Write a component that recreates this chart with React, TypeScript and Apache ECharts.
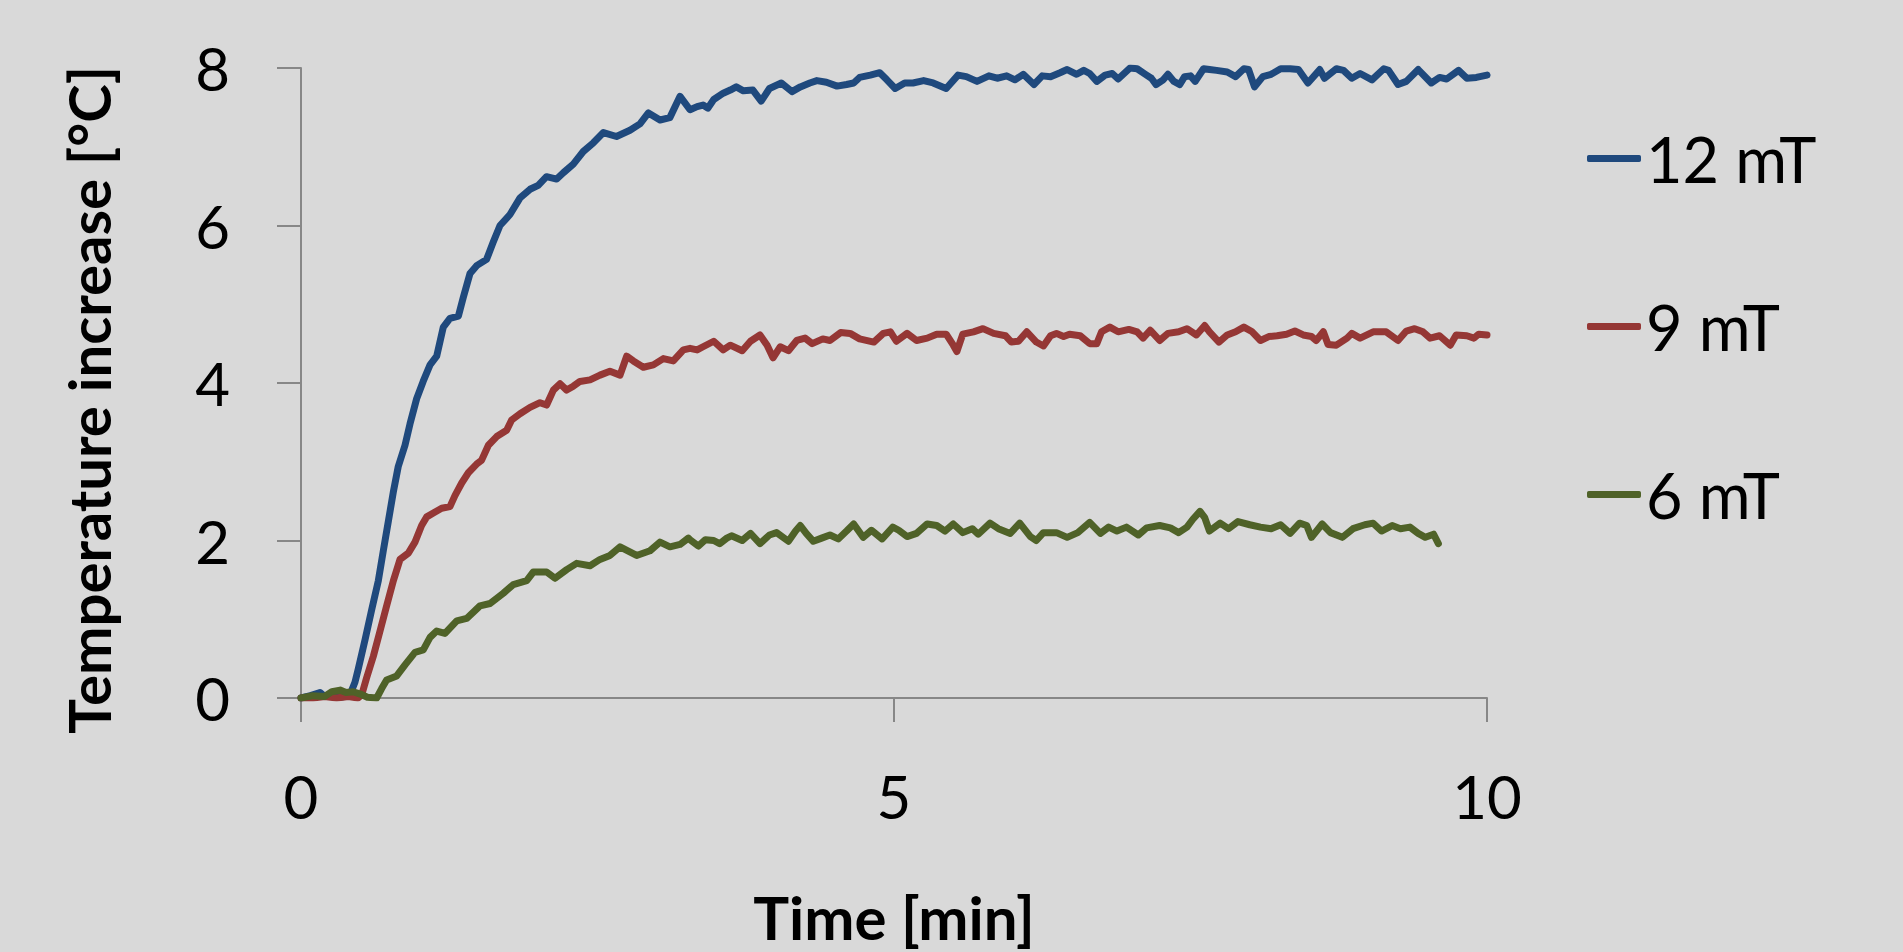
import React, { useEffect, useRef } from "react";
import * as echarts from "echarts";

const seriesNames = ["12 mT", "9 mT", "6 mT"];
const seriesColors = ["#1F497D", "#953735", "#4F6228"];

const xTicks = [0, 5, 10];
const yTicks = [0, 2, 4, 6, 8];

const blue12: [number, number][] = [
  [0, 0], [0.08, 0.03], [0.16, 0.07], [0.2, 0.02], [0.25, 0.03], [0.33, 0.01], [0.41, 0.03],
  [0.455, 0.2], [0.483, 0.37], [0.54, 0.74], [0.596, 1.12], [0.652, 1.49], [0.694, 1.87],
  [0.736, 2.24], [0.779, 2.62], [0.82, 2.94], [0.877, 3.21], [0.919, 3.48], [0.975, 3.8],
  [1.03, 4.02], [1.088, 4.23], [1.144, 4.34], [1.2, 4.71], [1.256, 4.82], [1.327, 4.85],
  [1.369, 5.09], [1.425, 5.39], [1.481, 5.49], [1.565, 5.57], [1.621, 5.79], [1.678, 6.0],
  [1.762, 6.14], [1.847, 6.35], [1.931, 6.46], [2.0, 6.51], [2.07, 6.62], [2.156, 6.59],
  [2.212, 6.67], [2.296, 6.78], [2.38, 6.94], [2.465, 7.05], [2.55, 7.18], [2.66, 7.13],
  [2.774, 7.21], [2.858, 7.29], [2.929, 7.43], [3.027, 7.34], [3.11, 7.37], [3.196, 7.64],
  [3.28, 7.47], [3.34, 7.51], [3.39, 7.53], [3.43, 7.49], [3.48, 7.6], [3.56, 7.68],
  [3.62, 7.72], [3.67, 7.76], [3.73, 7.71], [3.81, 7.72], [3.88, 7.58], [3.95, 7.74],
  [4.05, 7.81], [4.14, 7.7], [4.21, 7.76], [4.29, 7.81], [4.35, 7.84], [4.43, 7.82],
  [4.52, 7.77], [4.6, 7.79], [4.66, 7.81], [4.71, 7.88], [4.8, 7.91], [4.88, 7.94],
  [4.94, 7.85], [5.01, 7.74], [5.09, 7.81], [5.16, 7.81], [5.25, 7.84], [5.33, 7.81],
  [5.44, 7.74], [5.54, 7.91], [5.61, 7.89], [5.7, 7.83], [5.8, 7.9], [5.87, 7.87],
  [5.95, 7.9], [6.02, 7.85], [6.09, 7.92], [6.18, 7.79], [6.25, 7.9], [6.32, 7.89],
  [6.4, 7.94], [6.46, 7.98], [6.54, 7.92], [6.6, 7.97], [6.65, 7.93], [6.71, 7.83],
  [6.78, 7.91], [6.84, 7.93], [6.89, 7.86], [6.99, 8.0], [7.05, 7.99], [7.12, 7.92],
  [7.17, 7.87], [7.21, 7.79], [7.27, 7.85], [7.31, 7.92], [7.36, 7.83], [7.41, 7.79],
  [7.45, 7.89], [7.5, 7.9], [7.54, 7.83], [7.61, 7.99], [7.66, 7.98], [7.72, 7.97],
  [7.81, 7.95], [7.88, 7.89], [7.95, 7.99], [7.99, 7.98], [8.04, 7.76], [8.11, 7.89],
  [8.18, 7.92], [8.26, 7.99], [8.34, 7.99], [8.41, 7.98], [8.49, 7.81], [8.59, 7.98],
  [8.63, 7.87], [8.73, 7.99], [8.79, 7.97], [8.86, 7.87], [8.93, 7.93], [9.03, 7.85],
  [9.13, 7.99], [9.17, 7.97], [9.25, 7.79], [9.32, 7.83], [9.42, 7.98], [9.53, 7.81],
  [9.6, 7.88], [9.66, 7.86], [9.76, 7.97], [9.83, 7.87], [9.91, 7.88], [10.0, 7.91],
];

const red9: [number, number][] = [
  [0, 0], [0.1, 0.0], [0.2, 0.02], [0.3, 0.0], [0.4, 0.02], [0.48, 0.0],
  [0.512, 0.04], [0.554, 0.26], [0.61, 0.53], [0.666, 0.85], [0.722, 1.17], [0.779, 1.49],
  [0.835, 1.76], [0.905, 1.84], [0.961, 1.98], [1.017, 2.19], [1.06, 2.3], [1.116, 2.35],
  [1.186, 2.41], [1.256, 2.43], [1.298, 2.57], [1.355, 2.73], [1.411, 2.86], [1.481, 2.97],
  [1.523, 3.02], [1.58, 3.21], [1.65, 3.32], [1.734, 3.4], [1.776, 3.53], [1.847, 3.61],
  [1.931, 3.69], [2.015, 3.75], [2.071, 3.72], [2.128, 3.91], [2.184, 3.99], [2.24, 3.91],
  [2.296, 3.96], [2.352, 4.02], [2.437, 4.04], [2.521, 4.1], [2.605, 4.15], [2.69, 4.1],
  [2.746, 4.34], [2.802, 4.28], [2.886, 4.2], [2.971, 4.23], [3.055, 4.31], [3.139, 4.28],
  [3.224, 4.42], [3.28, 4.44], [3.34, 4.42], [3.39, 4.46], [3.48, 4.53], [3.56, 4.42],
  [3.62, 4.48], [3.72, 4.41], [3.79, 4.53], [3.87, 4.61], [3.93, 4.48], [3.98, 4.32],
  [4.04, 4.46], [4.11, 4.41], [4.18, 4.54], [4.25, 4.57], [4.31, 4.5], [4.4, 4.56],
  [4.46, 4.54], [4.55, 4.64], [4.63, 4.63], [4.71, 4.56], [4.83, 4.52], [4.91, 4.63],
  [4.97, 4.65], [5.02, 4.53], [5.11, 4.63], [5.19, 4.54], [5.28, 4.57], [5.36, 4.62],
  [5.44, 4.62], [5.5, 4.48], [5.53, 4.4], [5.58, 4.62], [5.67, 4.65], [5.75, 4.69],
  [5.84, 4.63], [5.94, 4.6], [5.99, 4.52], [6.05, 4.53], [6.12, 4.65], [6.2, 4.52],
  [6.26, 4.47], [6.32, 4.6], [6.37, 4.63], [6.43, 4.59], [6.48, 4.62], [6.57, 4.6],
  [6.65, 4.5], [6.71, 4.5], [6.75, 4.65], [6.82, 4.71], [6.89, 4.65], [6.98, 4.68],
  [7.05, 4.65], [7.1, 4.57], [7.16, 4.67], [7.24, 4.54], [7.31, 4.63], [7.4, 4.65],
  [7.47, 4.69], [7.55, 4.61], [7.62, 4.73], [7.66, 4.65], [7.74, 4.52], [7.81, 4.61],
  [7.88, 4.65], [7.95, 4.71], [8.02, 4.65], [8.09, 4.54], [8.16, 4.59], [8.23, 4.6],
  [8.31, 4.62], [8.38, 4.66], [8.45, 4.61], [8.52, 4.59], [8.56, 4.54], [8.62, 4.65],
  [8.66, 4.49], [8.73, 4.48], [8.82, 4.57], [8.86, 4.63], [8.93, 4.57], [9.04, 4.65],
  [9.15, 4.65], [9.25, 4.54], [9.32, 4.66], [9.39, 4.69], [9.46, 4.65], [9.52, 4.57],
  [9.6, 4.6], [9.69, 4.48], [9.74, 4.61], [9.83, 4.6], [9.89, 4.57], [9.93, 4.62],
  [10.0, 4.61],
];

const green6: [number, number][] = [
  [0, 0], [0.1, 0.03], [0.2, 0.02], [0.26, 0.08], [0.33, 0.1], [0.38, 0.07], [0.44, 0.08],
  [0.5, 0.05], [0.56, 0.01], [0.638, 0.0], [0.68, 0.12], [0.722, 0.23], [0.807, 0.28],
  [0.877, 0.42], [0.961, 0.58], [1.031, 0.61], [1.088, 0.77], [1.144, 0.85], [1.214, 0.82],
  [1.313, 0.98], [1.397, 1.01], [1.509, 1.17], [1.594, 1.2], [1.706, 1.33], [1.79, 1.44],
  [1.903, 1.49], [1.959, 1.6], [2.071, 1.6], [2.142, 1.52], [2.24, 1.63], [2.324, 1.71],
  [2.437, 1.68], [2.521, 1.76], [2.605, 1.81], [2.69, 1.92], [2.83, 1.81], [2.943, 1.87],
  [3.027, 1.98], [3.111, 1.92], [3.196, 1.95], [3.266, 2.03], [3.28, 2.01], [3.35, 1.93],
  [3.41, 2.01], [3.48, 2.0], [3.53, 1.96], [3.59, 2.03], [3.63, 2.06], [3.72, 2.0],
  [3.79, 2.09], [3.87, 1.96], [3.95, 2.07], [4.01, 2.1], [4.11, 1.99], [4.17, 2.12],
  [4.21, 2.19], [4.26, 2.09], [4.32, 1.99], [4.39, 2.03], [4.46, 2.07], [4.53, 2.02],
  [4.6, 2.12], [4.66, 2.21], [4.74, 2.04], [4.81, 2.13], [4.9, 2.02], [4.99, 2.17],
  [5.04, 2.13], [5.11, 2.05], [5.19, 2.09], [5.28, 2.21], [5.36, 2.19], [5.43, 2.12],
  [5.5, 2.21], [5.58, 2.1], [5.66, 2.15], [5.71, 2.08], [5.81, 2.22], [5.88, 2.15],
  [5.98, 2.09], [6.06, 2.22], [6.15, 2.05], [6.2, 2.0], [6.26, 2.1], [6.37, 2.1],
  [6.46, 2.04], [6.55, 2.1], [6.65, 2.23], [6.74, 2.09], [6.81, 2.17], [6.88, 2.12],
  [6.96, 2.17], [7.06, 2.07], [7.13, 2.16], [7.24, 2.19], [7.33, 2.16], [7.4, 2.1],
  [7.47, 2.17], [7.52, 2.27], [7.58, 2.37], [7.62, 2.29], [7.66, 2.12], [7.75, 2.22],
  [7.82, 2.15], [7.9, 2.24], [8.0, 2.2], [8.09, 2.17], [8.18, 2.15], [8.26, 2.2],
  [8.34, 2.09], [8.42, 2.22], [8.48, 2.19], [8.52, 2.04], [8.61, 2.21], [8.68, 2.1],
  [8.78, 2.04], [8.87, 2.15], [8.97, 2.2], [9.04, 2.22], [9.11, 2.12], [9.2, 2.19],
  [9.27, 2.15], [9.35, 2.17], [9.42, 2.09], [9.48, 2.04], [9.55, 2.08], [9.59, 1.96],
];

const seriesData = [blue12, red9, green6];

const FONT = "Lato";
const AXIS_COLOR = "#878787";

export default function App() {
  const ref = useRef<HTMLDivElement>(null);

  useEffect(() => {
    if (!ref.current) return;
    const chart = echarts.init(ref.current, null, { renderer: "svg" });
    chart.setOption({
      animation: false,
      backgroundColor: "#D9D9D9",
      textStyle: { fontFamily: FONT },
      grid: { left: 301, right: 416, top: 68, bottom: 250.5, containLabel: false },
      legend: {
        orient: "vertical",
        left: 1582,
        top: 122,
        itemWidth: 54,
        itemHeight: 7,
        itemGap: 105,
        icon: "roundRect",
        data: seriesNames,
        textStyle: { fontFamily: FONT, fontSize: 63, lineHeight: 63, color: "#000" },
      },
      xAxis: {
        type: "value",
        min: xTicks[0],
        max: xTicks[xTicks.length - 1],
        interval: 5,
        name: "Time [min]",
        nameLocation: "middle",
        nameGap: 189,
        nameTextStyle: { fontFamily: FONT, fontSize: 60, fontWeight: "bold", color: "#000" },
        axisLine: { show: true, onZero: false, lineStyle: { color: AXIS_COLOR, width: 2 } },
        axisTick: { show: true, inside: false, length: 24, lineStyle: { color: AXIS_COLOR, width: 2 } },
        axisLabel: { margin: 68, fontSize: 60, color: "#000", fontFamily: FONT },
        splitLine: { show: false },
      },
      yAxis: {
        type: "value",
        min: yTicks[0],
        max: yTicks[yTicks.length - 1],
        interval: 2,
        name: "Temperature increase [°C]",
        nameLocation: "middle",
        nameGap: 184,
        nameTextStyle: {
          fontFamily: FONT, fontSize: 58, fontWeight: "bold", color: "#000",
          padding: [0, 34, 0, 0],
        },
        axisLine: { show: true, lineStyle: { color: AXIS_COLOR, width: 2 } },
        axisTick: { show: true, inside: false, length: 24, lineStyle: { color: AXIS_COLOR, width: 2 } },
        axisLabel: { margin: 71, fontSize: 60, color: "#000", fontFamily: FONT },
        splitLine: { show: false },
      },
      series: seriesNames.map((name, i) => ({
        name,
        type: "line",
        data: seriesData[i],
        showSymbol: false,
        symbol: "none",
        smooth: false,
        color: seriesColors[i],
        lineStyle: { color: seriesColors[i], width: 7, join: "round", cap: "round" },
        z: 2 + i,
      })),
    });
    return () => chart.dispose();
  }, []);

  return (
    <div
      ref={ref}
      style={{ position: "fixed", left: 0, top: 0, width: 1903, height: 952 }}
    />
  );
}
